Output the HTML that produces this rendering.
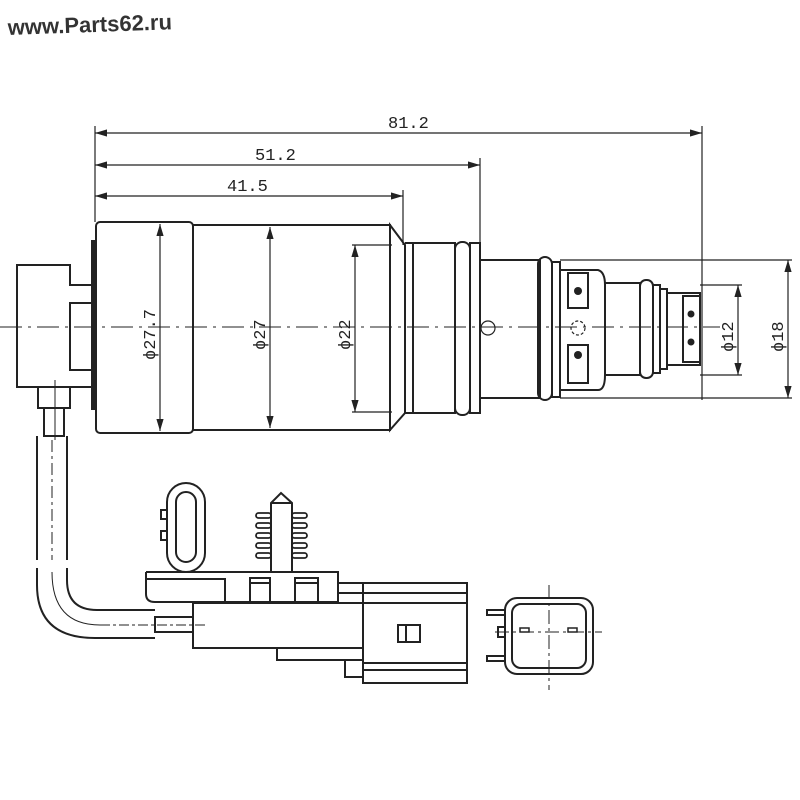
<!DOCTYPE html>
<html><head><meta charset="utf-8"><style>
html,body{margin:0;padding:0;background:#fff;}
svg{display:block}
</style></head><body>
<svg width="800" height="800" viewBox="0 0 800 800" xmlns="http://www.w3.org/2000/svg">
<defs>
<marker id="a" markerWidth="10" markerHeight="6" refX="10" refY="3" orient="auto"><path d="M0,0 L10,3 L0,6 z" fill="#222"/></marker>
<marker id="b" markerWidth="10" markerHeight="6" refX="0" refY="3" orient="auto"><path d="M10,0 L0,3 L10,6 z" fill="#222"/></marker>
</defs>
<text x="8" y="35" font-family="Liberation Sans, sans-serif" font-weight="bold" font-size="22" fill="#333" transform="rotate(-2 8 35)">www.Parts62.ru</text>

<g stroke="#222" fill="none" stroke-width="1.2">
<line x1="95" y1="133" x2="702" y2="133" marker-start="url(#b)" marker-end="url(#a)"/>
<line x1="95" y1="165" x2="480" y2="165" marker-start="url(#b)" marker-end="url(#a)"/>
<line x1="95" y1="196" x2="403" y2="196" marker-start="url(#b)" marker-end="url(#a)"/>
<line x1="95" y1="126" x2="95" y2="222"/>
<line x1="403" y1="190" x2="403" y2="245"/>
<line x1="480" y1="158" x2="480" y2="260"/>
<line x1="702" y1="126" x2="702" y2="400"/>
</g>
<g font-family="Liberation Mono, monospace" font-size="17" fill="#222">
<text x="388" y="128">81.2</text>
<text x="255" y="160">51.2</text>
<text x="227" y="191">41.5</text>
</g>

<line x1="0" y1="327" x2="720" y2="327" stroke="#222" stroke-width="1" stroke-dasharray="22,6,3,6"/>

<g stroke="#222" fill="none" stroke-width="2">
<path d="M92,285 L70,285 L70,265 L17,265 L17,387 L92,387"/>
<path d="M92,303 L70,303 L70,370 L92,370"/>
<line x1="93" y1="240" x2="93" y2="410" stroke-width="4"/>
<rect x="38" y="387" width="32" height="21"/>
<line x1="55" y1="380" x2="55" y2="440" stroke-width="1"/>
<rect x="44" y="408" width="20" height="28"/>
<path d="M37,436 L37,560 M67,436 L67,560"/>
<path d="M37,568 L37,585 Q37,638 95,638 L155,638"/>
<path d="M67,568 L67,580 Q67,610 97,610 L155,610"/>
<line x1="52" y1="440" x2="52" y2="560" stroke-width="1" stroke-dasharray="12,4,3,4"/>
<path d="M52,572 Q52,625 100,625" stroke-width="1"/>
<rect x="96" y="222" width="97" height="211" rx="4"/>
<rect x="193" y="225" width="197" height="205"/>
<path d="M390,225 L405,245 L405,413 L390,430 Z"/>
<path d="M405,243 L455,243 L455,413 L405,413"/>
<line x1="413" y1="243" x2="413" y2="413"/>
<rect x="455" y="242" width="15" height="173" rx="7"/>
<rect x="470" y="243" width="10" height="170"/>
<rect x="480" y="260" width="60" height="138"/>
<rect x="538" y="257" width="14" height="143" rx="7"/>
<rect x="552" y="262" width="8" height="135"/>
<path d="M560,270 L598,270 Q605,272 605,285 L605,375 Q605,390 598,390 L560,390 Z"/>
<rect x="568" y="273" width="20" height="35"/>
<rect x="568" y="345" width="20" height="38"/>
<rect x="605" y="283" width="35" height="92"/>
<rect x="640" y="280" width="13" height="98" rx="6"/>
<rect x="653" y="285" width="7" height="88"/>
<rect x="660" y="289" width="7" height="80"/>
<rect x="667" y="293" width="33" height="72"/>
<rect x="683" y="296" width="17" height="66"/>
</g>
<g fill="#222">
<circle cx="578" cy="291" r="4"/><circle cx="578" cy="355" r="4"/>
<circle cx="691" cy="314" r="3.5"/><circle cx="691" cy="342" r="3.5"/>
</g>
<g stroke="#222" fill="none" stroke-width="1.2">
<circle cx="488" cy="328" r="7"/>
<circle cx="578" cy="328" r="7" stroke-dasharray="3,2"/>
<line x1="160" y1="224" x2="160" y2="431" marker-start="url(#b)" marker-end="url(#a)"/>
<line x1="270" y1="227" x2="270" y2="428" marker-start="url(#b)" marker-end="url(#a)"/>
<line x1="355" y1="245" x2="355" y2="412" marker-start="url(#b)" marker-end="url(#a)"/>
<line x1="352" y1="245" x2="392" y2="245"/><line x1="352" y1="412" x2="392" y2="412"/>
<line x1="738" y1="285" x2="738" y2="375" marker-start="url(#b)" marker-end="url(#a)"/>
<line x1="700" y1="285" x2="742" y2="285"/><line x1="700" y1="375" x2="742" y2="375"/>
<line x1="788" y1="260" x2="788" y2="398" marker-start="url(#b)" marker-end="url(#a)"/>
<line x1="560" y1="260" x2="792" y2="260"/><line x1="560" y1="398" x2="792" y2="398"/>
</g>
<g font-family="Liberation Mono, monospace" font-size="17" fill="#222">
<text transform="translate(155,360) rotate(-90)">ϕ27.7</text>
<text transform="translate(265,350) rotate(-90)">ϕ27</text>
<text transform="translate(350,350) rotate(-90)">ϕ22</text>
<text transform="translate(733,352) rotate(-90)">ϕ12</text>
<text transform="translate(783,352) rotate(-90)">ϕ18</text>
</g>

<g stroke="#222" fill="none" stroke-width="2">
<rect x="167" y="483" width="38" height="89" rx="19"/>
<rect x="176" y="492" width="20" height="70" rx="10"/>
<rect x="161" y="510" width="6" height="9"/><rect x="161" y="531" width="6" height="9"/>
<path d="M271,572 L271,503 L281,493 L292,503 L292,572"/>
<line x1="271" y1="503" x2="292" y2="503"/>
<g stroke-width="1.8">
<rect x="256" y="513" width="15" height="5" rx="2.5"/><rect x="292" y="513" width="15" height="5" rx="2.5"/>
<rect x="256" y="523" width="15" height="5" rx="2.5"/><rect x="292" y="523" width="15" height="5" rx="2.5"/>
<rect x="256" y="533" width="15" height="5" rx="2.5"/><rect x="292" y="533" width="15" height="5" rx="2.5"/>
<rect x="256" y="543" width="15" height="5" rx="2.5"/><rect x="292" y="543" width="15" height="5" rx="2.5"/>
<rect x="256" y="553" width="15" height="5" rx="2.5"/><rect x="292" y="553" width="15" height="5" rx="2.5"/>
</g>
<path d="M146,572 L338,572 L338,603 M146,572 L146,594 Q146,602 155,602 L225,602 L225,579 L146,579"/>
<line x1="225" y1="602" x2="338" y2="602"/>
<rect x="250" y="578" width="20" height="24"/><line x1="250" y1="583" x2="270" y2="583"/>
<rect x="295" y="578" width="23" height="24"/><line x1="295" y1="583" x2="318" y2="583"/>
<path d="M338,583 L363,583 M338,593 L363,593"/>
<rect x="193" y="603" width="170" height="45"/>
<path d="M277,648 L277,660 L345,660 L345,677 L363,677"/>
<line x1="277" y1="660" x2="363" y2="660"/>
<rect x="363" y="583" width="104" height="100"/>
<line x1="363" y1="593" x2="467" y2="593"/><line x1="363" y1="603" x2="467" y2="603"/>
<line x1="363" y1="663" x2="467" y2="663"/><line x1="363" y1="670" x2="467" y2="670"/>
<rect x="398" y="625" width="22" height="17"/><line x1="406" y1="625" x2="406" y2="642"/>
<rect x="155" y="617" width="38" height="15"/>
<line x1="100" y1="625" x2="205" y2="625" stroke-width="1" stroke-dasharray="10,3,3,3"/>
<rect x="505" y="598" width="88" height="76" rx="12"/>
<rect x="512" y="604" width="74" height="64" rx="9"/>
<path d="M505,610 L487,610 L487,615 L505,615 M505,656 L487,656 L487,661 L505,661"/>
<rect x="498" y="627" width="7" height="10"/>
<rect x="520" y="628" width="9" height="4" stroke-width="1.5"/>
<rect x="568" y="628" width="9" height="4" stroke-width="1.5"/>
</g>
<line x1="549" y1="585" x2="549" y2="690" stroke="#222" stroke-width="1" stroke-dasharray="14,4,3,4"/>
<line x1="495" y1="632" x2="602" y2="632" stroke="#222" stroke-width="1" stroke-dasharray="14,4,3,4"/>
</svg>
</body></html>
